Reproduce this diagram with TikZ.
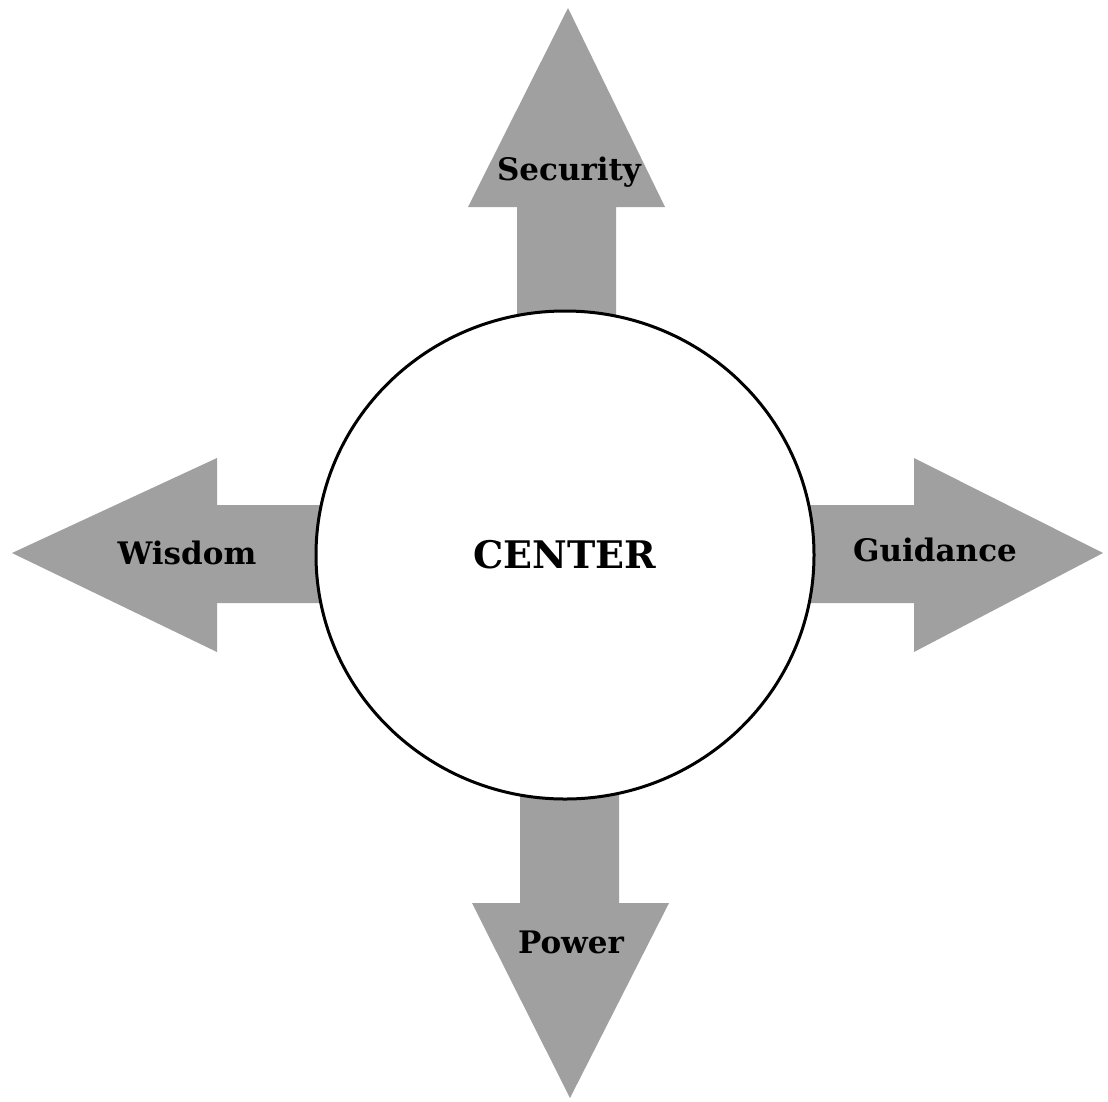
\documentclass[tikz,border=0pt]{standalone}
\usepackage{fontspec}
\setmainfont{DejaVu Serif}
\usetikzlibrary{shapes.geometric}
\definecolor{arrowgray}{RGB}{160,160,160}
\tikzset{
  bigarrow/.style={fill=arrowgray, draw=none},
  lbl/.style={font=\bfseries\fontsize{31}{33}\selectfont, inner sep=0pt, text=black},
  hub/.style={ellipse, draw=black, line width=3pt, fill=white, minimum width=498pt, minimum height=488pt, inner sep=0pt, font=\bfseries\fontsize{38}{40}\selectfont}
}
\begin{document}
\begin{tikzpicture}[x=1pt,y=-1pt]
\useasboundingbox (0,0) rectangle (1108,1101);
% up arrow
\fill[bigarrow] (517,420) -- (517,207) -- (468,207) -- (568,8) -- (665,207) -- (616,207) -- (616,420) -- cycle;
% down arrow
\fill[bigarrow] (520,700) -- (520,903) -- (472,903) -- (570,1098) -- (669,903) -- (619,903) -- (619,700) -- cycle;
% left arrow
\fill[bigarrow] (420,505) -- (217,505) -- (217,458) -- (12,553) -- (217,652) -- (217,603) -- (420,603) -- cycle;
% right arrow
\fill[bigarrow] (710,505) -- (914,505) -- (914,458) -- (1103,553) -- (914,652) -- (914,603) -- (710,603) -- cycle;
\node[hub] (center) at (565,555) {CENTER};
\node[lbl] (security) at (569,172) {Security};
\node[lbl] (power) at (571,942) {Power};
\node[lbl] (wisdom) at (187,553) {Wisdom};
\node[lbl] (guidance) at (935,550) {Guidance};
\end{tikzpicture}
\end{document}
